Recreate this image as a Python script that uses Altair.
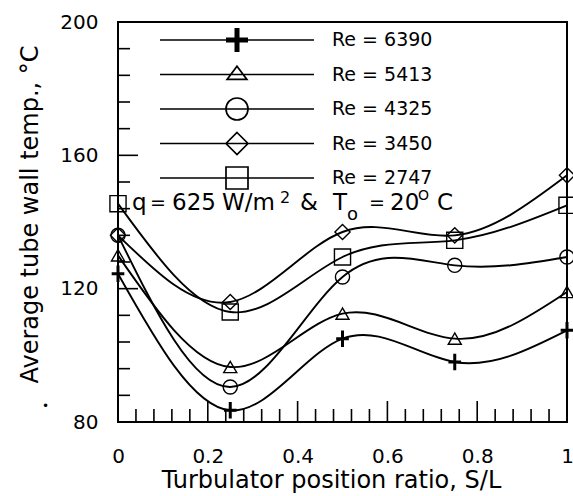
import altair as alt
import pandas as pd

FONT = "DejaVu Sans"

# ---- data ----
ratio = [0.0, 0.25, 0.5, 0.75, 1.0]
series_names = ["Re = 6390", "Re = 5413", "Re = 4325", "Re = 3450", "Re = 2747"]
re6390 = [124.5, 83.5, 105.0, 98.0, 107.5]
re5413 = [130.0, 96.5, 112.5, 105.0, 119.0]
re4325 = [136.0, 90.5, 123.5, 127.0, 129.5]
re3450 = [136.0, 116.0, 137.0, 136.0, 154.0]
re2747 = [145.5, 113.0, 129.5, 134.5, 145.0]

y_labels = [80, 120, 160, 200]
y_minor = [88, 96, 104, 112, 128, 136, 144, 152, 168, 176, 184, 192]
y_major = [120, 160]
x_labels = [0, 0.2, 0.4, 0.6, 0.8, 1.0]
x_major = [0.2, 0.4, 0.6, 0.8]
x_minor = [0.04, 0.08, 0.12, 0.16, 0.24, 0.28, 0.32, 0.36, 0.44, 0.48,
           0.52, 0.56, 0.64, 0.68, 0.72, 0.76, 0.84, 0.88, 0.92, 0.96]

all_values = [re6390, re5413, re4325, re3450, re2747]
rows = []
for name, vals in zip(series_names, all_values):
    for r, v in zip(ratio, vals):
        rows.append({"series": name, "ratio": r, "temp": v})
df = pd.DataFrame(rows)

xscale = alt.Scale(domain=[0, 1], nice=False, zero=False)
yscale = alt.Scale(domain=[80, 200], nice=False, zero=False)

xaxis = alt.Axis(values=x_labels, ticks=False, domain=False, grid=False, labelFlush=False,
                 labelExpr="datum.value == 0 ? '0' : datum.value == 1 ? '1' : format(datum.value, '.1f')",
                 labelFont=FONT, labelFontSize=20, labelColor="black", labelPadding=24,
                 title="Turbulator position ratio,  S/L", titleFont=FONT, titleFontSize=24,
                 titleFontWeight="normal", titleColor="black", titlePadding=2, titleX=213)
yaxis = alt.Axis(values=y_labels, ticks=False, domain=False, grid=False,
                 labelFont=FONT, labelFontSize=20, labelColor="black", labelPadding=20,
                 title="Average tube wall temp., \u00b0C", titleFont=FONT, titleFontSize=24,
                 titleFontWeight="normal", titleColor="black", titlePadding=17, titleY=192)

X = alt.X("ratio:Q", scale=xscale, axis=xaxis)
Y = alt.Y("temp:Q", scale=yscale, axis=yaxis)

base = alt.Chart(df)

lines = base.mark_line(interpolate="natural", color="black", strokeWidth=1.9).encode(
    x=X, y=Y, detail="series:N",
)

hollow_names = series_names[1:]
hollow = base.transform_filter(
    alt.FieldOneOfPredicate(field="series", oneOf=hollow_names)
).mark_point(filled=False, color="black", strokeWidth=1.4, opacity=1).encode(
    x=X, y=Y,
    shape=alt.Shape("series:N", scale=alt.Scale(domain=hollow_names,
                    range=["triangle-up", "circle", "diamond", "square"]), legend=None),
    size=alt.Size("series:N", scale=alt.Scale(domain=hollow_names,
                  range=[170, 260, 170, 270]), legend=None),
)

plus = base.transform_filter(
    alt.FieldEqualPredicate(field="series", equal=series_names[0])
).mark_point(filled=False, color="black", strokeWidth=3, opacity=1,
             shape="M-1,0H1M0,-1.3V1.3", size=160).encode(x=X, y=Y)

# legend layer (no marks drawn, only the legend)
L = "M0,-1.1M0,1.1M-7,0H7"
legend_paths = [
    L + "M-1,-0.15H1M-1,-0.05H1M-1,0.05H1M-1,0.15H1M-0.15,-1.1V1.1M-0.05,-1.1V1.1M0.05,-1.1V1.1M0.15,-1.1V1.1",
    L + "M0,-0.75L0.9,0.45H-0.9Z",
    L + "M-1,0A1,1,0,1,0,1,0A1,1,0,1,0,-1,0Z",
    L + "M0,-1L1,0L0,1L-1,0Z",
    L + "M-1,-1H1V1H-1Z",
]
legend_layer = base.transform_filter("false").mark_point(
    filled=False, color="black", strokeWidth=1.7, opacity=1).encode(
    x=X, y=Y,
    shape=alt.Shape("series:N", scale=alt.Scale(domain=series_names, range=legend_paths),
                    legend=alt.Legend(title=None, orient="none", legendX=107, legendY=6,
                                      symbolSize=484, symbolStrokeWidth=1.7,
                                      symbolStrokeColor="black", symbolFillColor="transparent",
                                      labelOffset=83, labelFont=FONT, labelFontSize=19,
                                      labelColor="black", rowPadding=2.5, padding=0)),
)

# inward ticks drawn from the tick value lists
def ticks_y(vals, length):
    return alt.Chart(pd.DataFrame({"temp": vals})).mark_rule(color="black", strokeWidth=1.6).encode(
        y=Y, x=alt.value(0), x2=alt.value(length))

def ticks_x(vals, length):
    return alt.Chart(pd.DataFrame({"ratio": vals})).mark_rule(color="black", strokeWidth=1.6).encode(
        x=X, y=alt.value(400), y2=alt.value(400 - length))

# annotation pieces: q = 625 W/m^2 & T_o = 20 oC
def txt(s, x, y, size=23):
    return alt.Chart(pd.DataFrame({"t": [s]})).mark_text(
        align="left", baseline="alphabetic", font=FONT, fontSize=size, color="black").encode(
        text="t:N", x=alt.value(x), y=alt.value(y))

annot = [
    txt("q", 14, 188),
    txt("=", 32, 187, 19),
    txt("625", 54, 188),
    txt("W/m", 104, 188),
    txt("2", 162, 181, 16),
    txt("&", 182, 188),
    txt("T", 215, 188),
    txt("o", 229, 198, 18),
    txt("=", 251, 187, 19),
    txt("20", 272, 188),
    txt("O", 300, 178, 14),
    txt("C", 319, 188),
    txt("\u2022", -76, 388, 12),
]

chart = alt.layer(
    lines, hollow, plus, legend_layer,
    ticks_y(y_minor, 12), ticks_y(y_major, 20),
    ticks_x(x_minor, 13), ticks_x(x_major, 21),
    *annot,
).resolve_scale(shape="independent", size="independent").properties(
    width=449, height=400, background="white",
    padding={"left": 118, "top": 22, "right": 6, "bottom": 74},
    autosize=alt.AutoSizeParams(type="none"),
).configure_view(stroke="black", strokeWidth=2)

chart.save("out.html", embed_options={"renderer": "svg", "actions": False})
